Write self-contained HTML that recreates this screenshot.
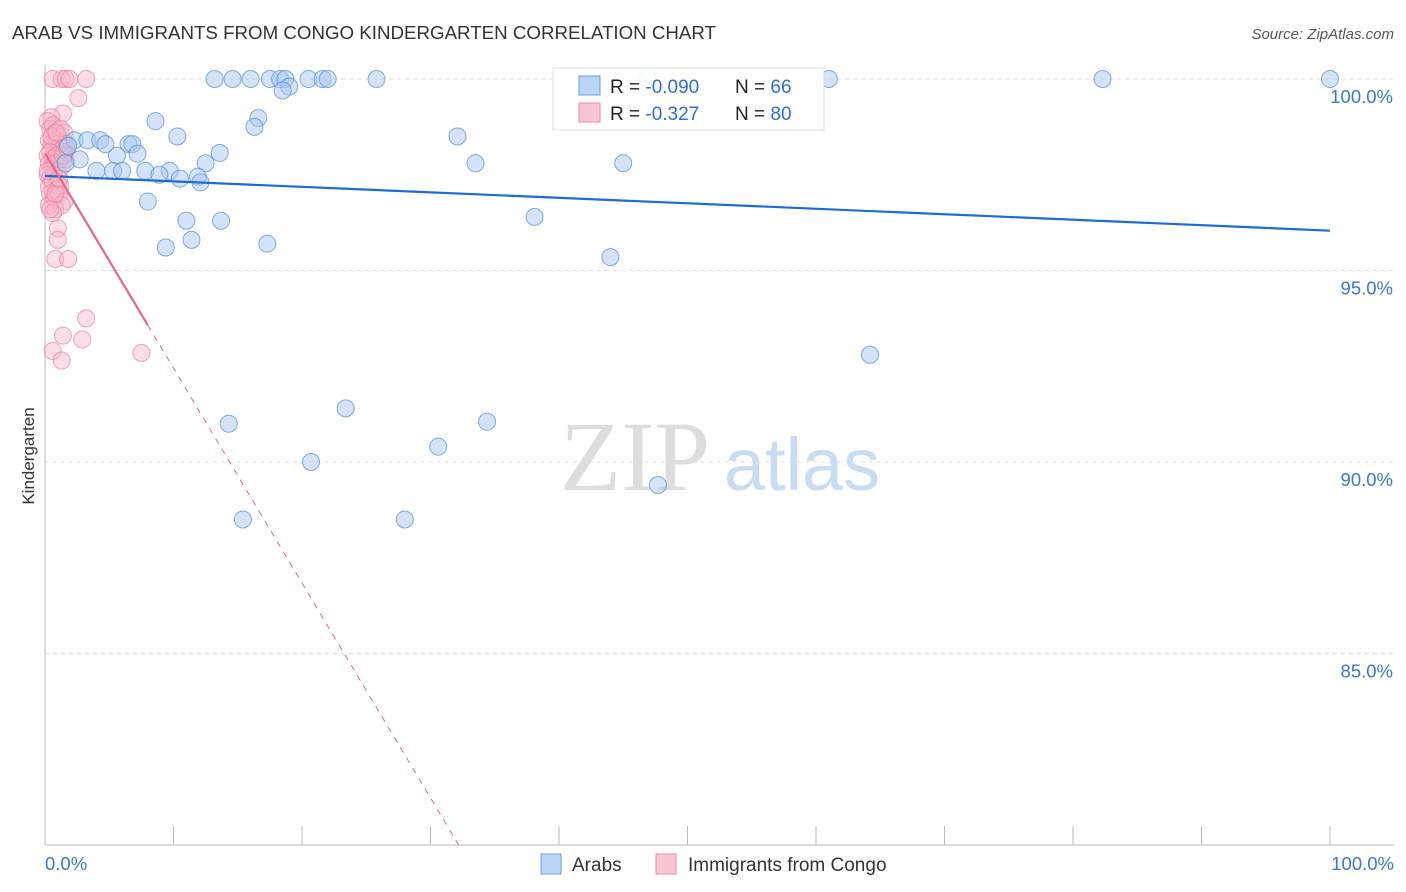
<!DOCTYPE html>
<html><head><meta charset="utf-8">
<style>
body{margin:0;background:#fff;font-family:"Liberation Sans",sans-serif;}
svg{display:block}
</style></head>
<body>
<svg id="chart" width="1406" height="892">
<text x="12" y="39" font-size="18" fill="#333" textLength="704" lengthAdjust="spacingAndGlyphs">ARAB VS IMMIGRANTS FROM CONGO KINDERGARTEN CORRELATION CHART</text>
<text x="1394" y="39" font-size="15" fill="#555" font-style="italic" text-anchor="end">Source: ZipAtlas.com</text>
<text x="34" y="456" font-size="17" fill="#333" text-anchor="middle" transform="rotate(-90 34 456)">Kindergarten</text>
<g id="grid"></g>
<g id="watermark">
<text x="635" y="490" font-size="100" fill="#ddd" font-family="Liberation Serif,serif" text-anchor="middle">ZIP</text>
<text x="802" y="490" font-size="74" fill="#c9dcf2" text-anchor="middle">atlas</text>
</g>
<g id="pts"></g>
<g id="lines"></g>
<g>
<rect x="553" y="68" width="271" height="62" fill="#fff" fill-opacity="0.9" stroke="#ddd"/>
<rect x="579" y="76" width="21" height="19" fill="#bcd5f5" stroke="#6a9fe0"/>
<rect x="579" y="103" width="21" height="19" fill="#f9c6d4" stroke="#ee8aa6"/>
<text x="610" y="93" font-size="19" fill="#222">R = <tspan fill="#2f6fd0">-0.090</tspan></text>
<text x="735" y="93" font-size="19" fill="#222">N = <tspan fill="#2f6fd0">66</tspan></text>
<text x="610" y="120" font-size="19" fill="#222">R = <tspan fill="#2f6fd0"> -0.327</tspan></text>
<text x="735" y="120" font-size="19" fill="#222">N = <tspan fill="#2f6fd0">80</tspan></text>
</g>
<g>
<rect x="541" y="854" width="20" height="20" fill="#bcd5f5" stroke="#6a9fe0"/>
<text x="572" y="871" font-size="19" fill="#333">Arabs</text>
<rect x="656" y="854" width="20" height="20" fill="#f9c6d4" stroke="#ee8aa6"/>
<text x="688" y="871" font-size="19" fill="#333">Immigrants from Congo</text>
</g>
</svg>
<script>
const xTicks=[0,10,20,30,40,50,60,70,80,90,100];
const yTicks=[85,90,95,100];
const yTickLabels=["85.0%","90.0%","95.0%","100.0%"];
const arabX=[13.2,14.6,16.0,17.5,18.3,18.7,20.5,21.6,22.0,25.8,46.9,61.0,82.3,100,19.0,18.5,16.6,16.3,8.6,10.3,32.1,2.3,3.3,4.3,1.8,4.7,6.5,6.8,5.6,2.7,1.6,7.2,13.6,12.5,33.5,45.0,4.0,5.3,6.0,7.8,9.7,8.9,10.5,11.9,12.1,8.0,11.0,13.7,38.1,11.4,9.4,17.3,44.0,64.2,23.4,14.3,34.4,30.6,20.7,47.7,15.4,28.0];
const arabY=[100,100,100,100,100,100,100,100,100,100,100,100,100,100,99.8,99.7,98.98,98.75,98.9,98.5,98.5,98.4,98.4,98.4,98.25,98.3,98.3,98.3,98.0,97.9,97.8,98.05,98.07,97.8,97.8,97.8,97.6,97.6,97.6,97.6,97.6,97.5,97.4,97.45,97.3,96.8,96.3,96.3,96.4,95.8,95.6,95.7,95.35,92.8,91.4,91.0,91.05,90.4,90.0,89.4,88.5,88.5];
const congoX=[0.6,1.3,1.6,1.9,3.2,2.6,1.4,0.5,1.0,1.0,0.8,1.8,3.2,1.4,2.9,0.6,1.3,7.5,
0.2,0.4,0.6,0.8,1.0,1.2,1.5,0.3,0.5,0.7,0.9,1.1,1.4,1.7,0.2,0.4,0.6,0.9,1.2,1.5,0.3,0.5,0.8,1.0,1.3,1.6,0.2,0.4,0.7,1.0,0.3,0.6,0.9,1.2,0.4,0.7,1.1,1.5,0.3,0.8,1.3,0.5,0.9,1.4,0.6,0.2,1.7,0.8,0.4,1.1];
const congoY=[100,100,100,100,100,99.5,99.1,99.0,96.1,95.8,95.3,95.3,93.75,93.3,93.2,92.9,92.65,92.85,
98.9,98.7,98.8,98.6,98.5,98.7,98.6,98.4,98.3,98.2,98.4,98.3,98.2,98.3,98.0,98.1,97.9,98.0,97.9,98.1,97.8,97.7,97.8,97.6,97.7,97.9,97.5,97.4,97.5,97.3,97.2,97.3,97.1,97.2,97.0,96.9,97.0,96.8,96.7,96.6,96.7,98.5,98.6,98.0,96.5,97.6,98.2,97.0,96.6,97.4];
const arabTrend=[97.47,96.04];
const congoTrend=[98.06,-0.561];
const X0=45,X1=1330,Y100=79,PPU=38.3;
const sx=v=>X0+(X1-X0)*v/100, sy=v=>Y100+(100-v)*PPU;
const NS="http://www.w3.org/2000/svg";
function mk(t,a,p){const e=document.createElementNS(NS,t);for(const k in a)e.setAttribute(k,a[k]);p.appendChild(e);return e;}
const grid=document.getElementById('grid');
mk('line',{x1:X0,y1:65,x2:X0,y2:845,stroke:'#bbb'},grid);
mk('line',{x1:X0,y1:845,x2:1394,y2:845,stroke:'#bbb'},grid);
yTicks.forEach((v,i)=>{
 const l=mk('line',{x1:X0,y1:sy(v),x2:1394,y2:sy(v),stroke:'#ddd','stroke-dasharray':'4,4'},grid);
 
 
 const t=mk('text',{x:1393,y:sy(v)+24,'font-size':18.5,fill:'#3a78d0','text-anchor':'end'},grid);
 t.textContent=yTickLabels[i];
 
 
});
xTicks.forEach(v=>{
 const l=mk('line',{x1:sx(v),y1:826,x2:sx(v),y2:845,stroke:'#bbb'},grid);
 
 
});
let t=mk('text',{x:45,y:870,'font-size':18.5,fill:'#3a78d0'},grid);t.textContent='0.0%';


t=mk('text',{x:1394,y:870,'font-size':18.5,fill:'#3a78d0','text-anchor':'end'},grid);t.textContent='100.0%';


const pts=document.getElementById('pts');
congoX.forEach((x,i)=>{
 const c=mk('circle',{cx:sx(x),cy:sy(congoY[i]),r:8.5,fill:'#f7b6c8','fill-opacity':0.45,stroke:'#ec7f9f','stroke-opacity':0.7},pts);
 
 
});
arabX.forEach((x,i)=>{
 const c=mk('circle',{cx:sx(x),cy:sy(arabY[i]),r:8.5,fill:'#a9c8f0','fill-opacity':0.5,stroke:'#5a93dc','stroke-opacity':0.75},pts);
 
 
});
const lines=document.getElementById('lines');
let l=mk('line',{x1:sx(0),y1:sy(arabTrend[0]),x2:sx(100),y2:sy(arabTrend[1]),stroke:'#1e6ad6','stroke-width':2.2},lines);


const cy=x=>congoTrend[0]+congoTrend[1]*x;
l=mk('line',{x1:sx(0),y1:sy(cy(0)),x2:sx(8),y2:sy(cy(8)),stroke:'#e8658c','stroke-width':2.2},lines);


const xe=(80-congoTrend[0])/congoTrend[1];
l=mk('line',{x1:sx(8),y1:sy(cy(8)),x2:sx(xe),y2:sy(80),stroke:'#e8658c','stroke-width':1,'stroke-dasharray':'6,6'},lines);


</script>
</body></html>
